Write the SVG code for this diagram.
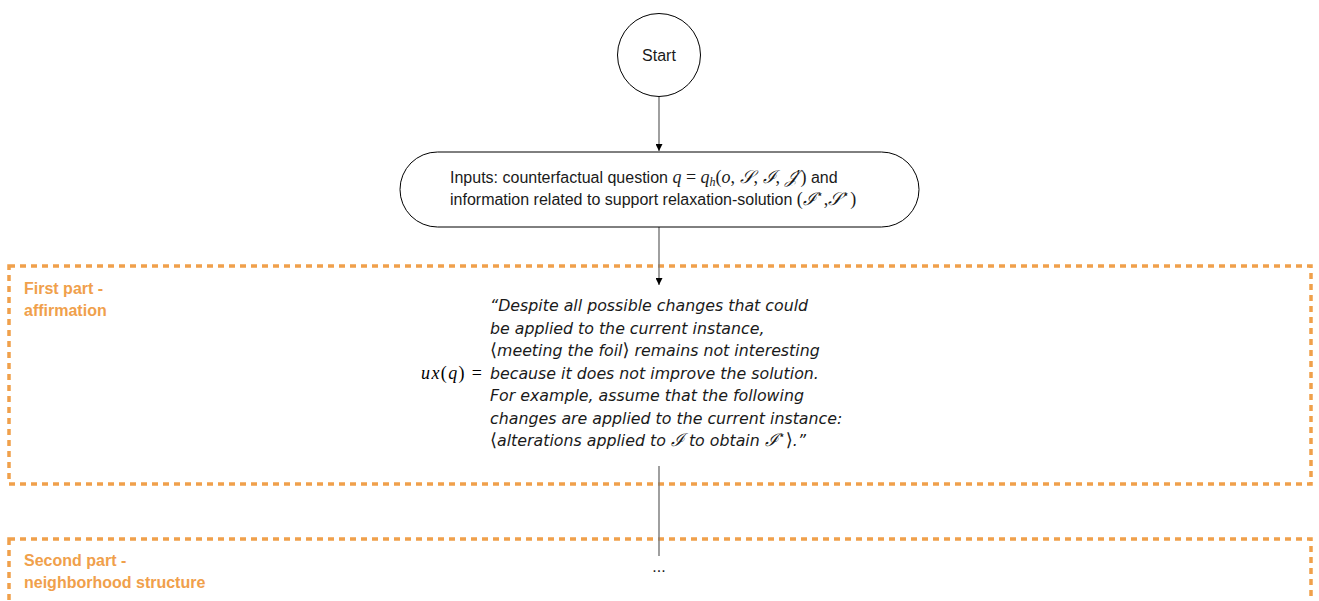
<svg xmlns="http://www.w3.org/2000/svg" width="1319" height="601" viewBox="0 0 1319 601">
<style>
.t{font-family:"Liberation Sans",Arial,sans-serif;font-size:16px;fill:#1a1a1a}
.it{font-family:"DejaVu Sans","Liberation Sans",sans-serif;font-size:15.8px;font-style:italic;fill:#1a1a1a}
.m{font-family:"Liberation Serif","DejaVu Serif",serif;font-style:italic}
.mr{font-family:"Liberation Serif","DejaVu Serif",serif;font-style:normal}
.lbl{font-family:"Liberation Sans",Arial,sans-serif;font-size:16px;font-weight:bold;fill:#F0A04B}
.part{fill:none;stroke:#F0A04B;stroke-width:3.5;stroke-dasharray:6 5}
.node{fill:#fff;stroke:#000;stroke-width:1}
.conn{stroke:#777;stroke-width:1.4;fill:none}
</style>
<defs>
<marker id="ah" viewBox="0 0 10 10" refX="10" refY="5" markerWidth="7" markerHeight="7" markerUnits="userSpaceOnUse" orient="auto">
<path d="M0,0 L10,5 L0,10 Z" fill="#000"/>
</marker>
</defs>
<rect width="1319" height="601" fill="#fff"/>
<g id="part1">
<rect class="part" x="9" y="266" width="1302" height="218"/>
<text class="lbl" x="24" y="294">First part -</text>
<text class="lbl" x="24" y="316">affirmation</text>
</g>
<g id="part2">
<rect class="part" x="9" y="539" width="1302" height="120"/>
<text class="lbl" x="24" y="566">Second part -</text>
<text class="lbl" x="24" y="588">neighborhood structure</text>
</g>
<g id="connectors">
<line class="conn" x1="659" y1="97" x2="659" y2="151" marker-end="url(#ah)"/>
<line class="conn" x1="659" y1="227" x2="659" y2="285" marker-end="url(#ah)"/>
<line class="conn" x1="659" y1="466" x2="659" y2="556"/>
</g>
<g id="start">
<circle class="node" cx="659" cy="55" r="41.5"/>
<text class="t" x="659" y="61" text-anchor="middle" font-size="15.5">Start</text>
</g>
<g id="inputs">
<rect class="node" x="400" y="152" width="519" height="75" rx="37.5" ry="37.5"/>
<text class="t" x="450" y="183">Inputs: counterfactual question <tspan class="m" font-size="18">q</tspan><tspan class="mr" font-size="18"> = </tspan><tspan class="m" font-size="18">q</tspan><tspan class="m" font-size="12" dy="3">h</tspan><tspan class="mr" font-size="18" dy="-3">(</tspan><tspan class="m" font-size="18">o</tspan><tspan class="mr" font-size="18">, </tspan><tspan class="m" font-size="18">𝒮</tspan><tspan class="mr" font-size="18">, </tspan><tspan class="m" font-size="18">ℐ</tspan><tspan class="mr" font-size="18">, </tspan><tspan class="m" font-size="18">𝒥</tspan><tspan class="mr" font-size="18">′)</tspan> and</text>
<text class="t" x="450" y="205">information related to support relaxation-solution <tspan class="mr" font-size="18">(</tspan><tspan class="m" font-size="18">ℐ</tspan><tspan class="mr" font-size="12" dy="-7">⋆</tspan><tspan class="mr" font-size="18" dy="7">,</tspan><tspan class="m" font-size="18">𝒮</tspan><tspan class="mr" font-size="12" dy="-7">⋆</tspan><tspan class="mr" font-size="18" dy="7">)</tspan></text>
</g>
<g id="affirmation">
<text x="421" y="379" font-size="18" textLength="61"><tspan class="m">ux</tspan><tspan class="mr">(</tspan><tspan class="m">q</tspan><tspan class="mr">) =</tspan></text>
<text class="it" x="490" y="311">“Despite all possible changes that could</text>
<text class="it" x="490" y="334">be applied to the current instance,</text>
<text class="it" x="490" y="356"><tspan class="mr" font-style="normal" font-size="18">⟨</tspan>meeting the foil<tspan class="mr" font-style="normal" font-size="18">⟩</tspan> remains not interesting</text>
<text class="it" x="490" y="379">because it does not improve the solution.</text>
<text class="it" x="490" y="401">For example, assume that the following</text>
<text class="it" x="490" y="424">changes are applied to the current instance:</text>
<text class="it" x="490" y="446"><tspan class="mr" font-style="normal" font-size="18">⟨</tspan>alterations applied to <tspan class="m" font-size="18">ℐ</tspan> to obtain <tspan class="m" font-size="18">ℐ</tspan><tspan class="mr" font-size="12" dy="-7">⋆</tspan><tspan class="mr" font-style="normal" font-size="18" dy="7">⟩</tspan>.”</text>
</g>
<g id="ellipsis">
<text class="t" x="659" y="572" text-anchor="middle">...</text>
</g>
</svg>
